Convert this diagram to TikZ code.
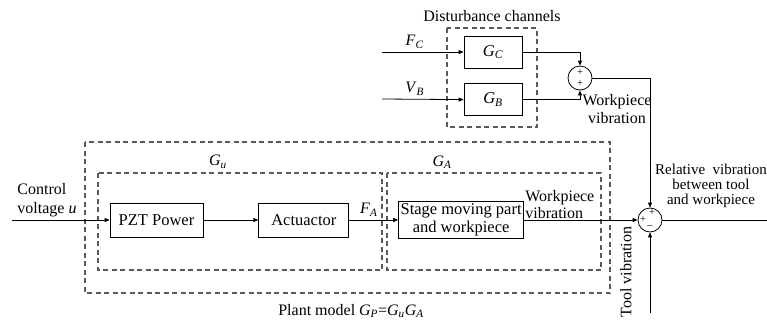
\documentclass[tikz,border=0pt]{standalone}
\usepackage{fontspec}
\setmainfont{Liberation Serif}
\usetikzlibrary{arrows.meta, positioning, calc}
\newcommand{\gsym}[2]{\textit{#1}\textsubscript{\textit{#2}}}

\begin{document}
\begin{tikzpicture}[
  x=1pt, y=-1pt,
  font=\fontsize{16}{17}\selectfont,
  block/.style={rectangle, draw, line width=0.8pt, minimum height=34pt,
    inner sep=2pt, align=center, font=\fontsize{16.5}{18}\selectfont},
  sum/.style={circle, draw, line width=0.8pt, minimum size=24pt, inner sep=0pt},
  sign/.style={font=\fontsize{10.5}{10.5}\selectfont, inner sep=0pt},
  group/.style={draw=black!65, line width=1.2pt, dash pattern=on 5pt off 3.5pt},
  arr/.style={-{Triangle[length=5pt, width=4pt]}, line width=0.8pt},
  wire/.style={line width=0.8pt}
]
\useasboundingbox (0,0) rectangle (767,322);

% main chain
\node[block, minimum width=93pt] (pzt) at (156.5,220) {PZT Power};
\node[block, minimum width=90pt, right=55pt of pzt] (act) {Actuactor};
\node[block, minimum width=125pt, minimum height=37pt, right=49pt of act] (stage)
  {Stage moving part\\and workpiece};
\node[sum] (sum2) at (650,220) {};
\node[sign, xshift=2pt, yshift=7pt] (s2t) at (sum2) {+};
\node[sign, xshift=-7pt] (s2l) at (sum2) {+};
\node[sign, yshift=-7pt] (s2b) at (sum2) {--};

% disturbance channels
\node[block, minimum width=58pt, minimum height=32pt] (gc) at (493,52) {\gsym{G}{C}};
\node[block, minimum width=58pt, minimum height=32pt, below=15pt of gc] (gb) {\gsym{G}{B}};
\node[sum] (sum1) at (580,78) {};
\node[sign, yshift=5.5pt] (s1t) at (sum1) {+};
\node[sign, yshift=-5.5pt] (s1b) at (sum1) {+};

% dashed groups
\draw[group] (447,28) rectangle (537,127);
\draw[group] (85,142) rectangle (610,293);
\draw[group] (98,173) rectangle (382,270);
\draw[group] (387,173) rectangle (601,270);

% free ends
\coordinate (uin) at (12,220);
\coordinate (fc) at (382,52);
\coordinate (vb) at (382,99);
\coordinate (tool) at (650,313);
\coordinate (out) at (767,220);

% labels
\node (dist) at (492,16) {Disturbance channels};
\node (gu) at (218,162) {\gsym{G}{u}};
\node (ga) at (442,162) {\gsym{G}{A}};
\node (plant) at (351,311) {Plant model \gsym{G}{P}=\gsym{G}{u}\gsym{G}{A}};
\node[align=left, font=\fontsize{16}{19}\selectfont] (ctl) at (47,200) {Control\\voltage \textit{u}};
\node[align=center, font=\fontsize{16}{18}\selectfont] (wv) at (617,109) {Workpiece\\vibration};
\node[rotate=90] (toolv) at (626,272) {Tool vibration};
\node[align=center, font=\fontsize{15}{15}\selectfont] (rel) at (711,186)
  {Relative\ \ vibration\\between tool\\and workpiece};

% connectors
\draw[arr] (uin) -- (pzt);
\draw[arr] (pzt) -- (act);
\draw[arr] (act) -- node[pos=0.4, above] {\gsym{F}{A}} (stage);
\draw[arr] (stage) -- node[pos=0, above right, align=left, inner sep=1pt] {Workpiece\\vibration} (sum2);
\draw[arr] (fc) -- node[pos=0.4, above] {\gsym{F}{C}} (gc);
\draw[arr] (vb) -- node[pos=0.4, above] {\gsym{V}{B}} (gb);
\draw[arr] (gc.east) -| (sum1.north);
\draw[arr] (gb.east) -| (sum1.south);
\draw[arr] (sum1.east) -| (sum2.north);
\draw[arr] (tool) -- (sum2.south);
\draw[wire] (sum2) -- (out);
\end{tikzpicture}
\end{document}
